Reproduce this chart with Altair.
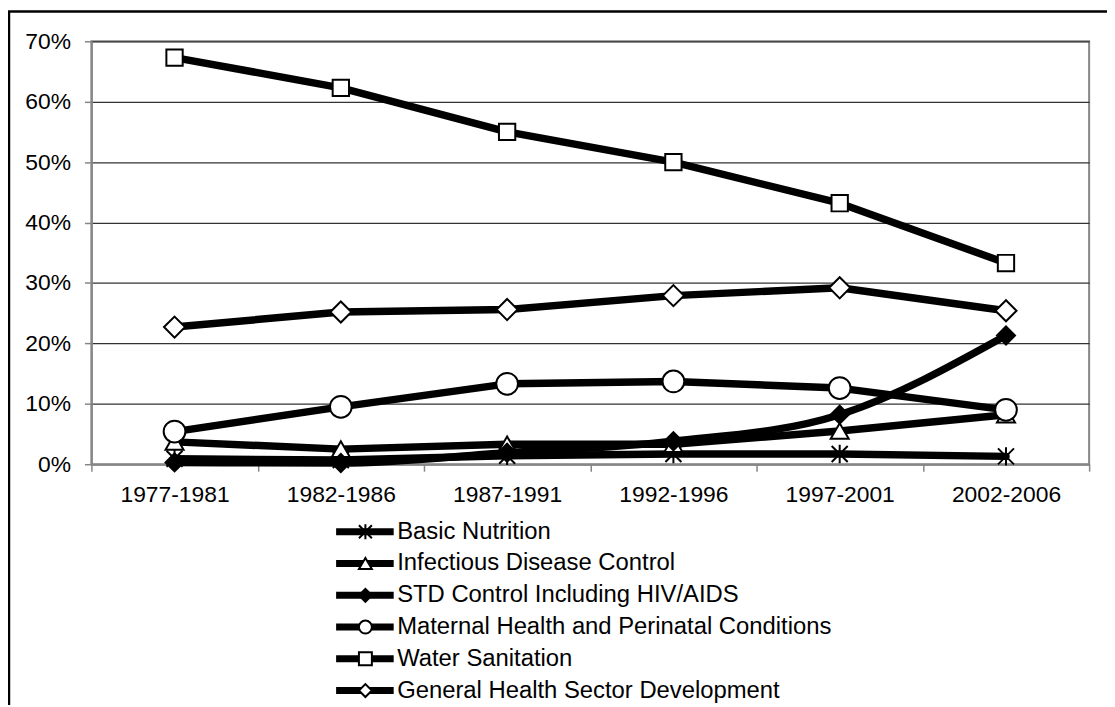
import altair as alt
import pandas as pd

# ---- data ----
periods = ["1977-1981", "1982-1986", "1987-1991", "1992-1996", "1997-2001", "2002-2006"]
series = [
    "Basic Nutrition",
    "Infectious Disease Control",
    "STD Control Including HIV/AIDS",
    "Maternal Health and Perinatal Conditions",
    "Water Sanitation",
    "General Health Sector Development",
]
basic_nutrition = [0.9, 0.7, 1.4, 1.7, 1.7, 1.3]
infectious_disease = [3.7, 2.5, 3.3, 3.3, 5.5, 8.2]
std_hiv = [0.3, 0.2, 1.9, 3.8, 8.2, 21.3]
maternal_health = [5.4, 9.5, 13.3, 13.7, 12.6, 9.0]
water_sanitation = [67.3, 62.3, 55.0, 50.0, 43.2, 33.3]
general_health = [22.7, 25.2, 25.6, 27.9, 29.2, 25.4]
y_ticks = [0, 10, 20, 30, 40, 50, 60, 70]

values_by_series = [basic_nutrition, infectious_disease, std_hiv,
                    maternal_health, water_sanitation, general_health]
rows = []
for i, (s, vals) in enumerate(zip(series, values_by_series)):
    for p, v in zip(periods, vals):
        rows.append({"series": s, "series_line": s,
                     "order": i, "period": p, "value": v})
df = pd.DataFrame(rows)

# ---- styling ----
FONT = "Liberation Sans"
GRAY = "#868686"
asterisk = "M-1,-1L1,1M-1,1L1,-1M0,-1.15L0,1.15"
shapes = [asterisk, "triangle-up", "diamond", "circle", "square", "diamond"]
fills = ["black", "white", "black", "white", "white", "white"]
sizes = [260, 330, 330, 480, 270, 450]

x_enc = alt.X(
    "period:N", sort=periods, bandPosition=0.5,
    scale=alt.Scale(type="band", domain=periods, paddingInner=0, paddingOuter=0),
    axis=alt.Axis(title=None, labelAngle=0, labelFont=FONT, labelFontSize=23,
                  labelColor="black", labelPadding=13, tickBand="extent",
                  tickSize=7, tickColor=GRAY, tickWidth=1.5, domainColor=GRAY,
                  domainWidth=2, grid=False, labelOverlap=False),
)
y_enc = alt.Y(
    "value:Q",
    scale=alt.Scale(domain=[0, 70], nice=False, zero=True),
    axis=alt.Axis(title=None, values=y_ticks, labelExpr="datum.value + '%'",
                  labelFont=FONT, labelFontSize=23, labelColor="black",
                  labelPadding=14, tickSize=7, tickColor=GRAY, tickWidth=1.5,
                  domainColor=GRAY, domainWidth=2, grid=True,
                  gridColor="#333333", gridWidth=1.2),
)

LEG_Y = 483
line_legend = alt.Legend(title=None, orient="none", direction="vertical",
                         legendX=243, legendY=LEG_Y, padding=0,
                         symbolType="stroke", symbolSize=3364,
                         symbolStrokeWidth=7, symbolStrokeColor="black",
                         clipHeight=22, rowPadding=8,
                         labelFont=FONT, labelFontSize=24, labelColor="black",
                         labelOffset=0, labelLimit=800)
stroke_enc = alt.Stroke(
    "series_line:N",
    sort=alt.EncodingSortField(field="order", op="min"),
    scale=alt.Scale(range=["black"] * len(series)),
    legend=line_legend,
)

base = alt.Chart(df)

lines = base.transform_filter(
    alt.datum.series != series[2]
).mark_line(strokeWidth=7.5, strokeCap="round", strokeJoin="round").encode(
    x=x_enc, y=y_enc, stroke=stroke_enc,
)
std_line = base.transform_filter(
    alt.datum.series == series[2]
).mark_line(strokeWidth=7.5, interpolate="monotone",
            strokeCap="round", strokeJoin="round").encode(
    x=x_enc, y=y_enc, stroke=stroke_enc,
)

# visible markers, one layer per series (drawn in series order)
marker_layers = []
for i, s in enumerate(series):
    marker_layers.append(
        base.transform_filter(alt.datum.series == s).mark_point(
            shape=shapes[i], filled=True, fill=fills[i], stroke="black",
            strokeWidth=2, size=sizes[i], opacity=1,
        ).encode(x=x_enc, y=y_enc)
    )

# legend-only layer: markers drawn over the legend lines
point_legend = alt.Legend(title=None, orient="none", direction="vertical",
                          legendX=264, legendY=LEG_Y, padding=0,
                          symbolSize=170, symbolStrokeWidth=2,
                          symbolOpacity=1,
                          clipHeight=22, rowPadding=8,
                          labelFont=FONT, labelFontSize=24, labelExpr="''",
                          labelLimit=800)
legend_points = base.transform_filter("datum.value < -1").mark_point(
    filled=True, stroke="black", strokeWidth=2, opacity=1).encode(
    x=x_enc, y=y_enc,
    color=alt.Color("series:N", scale=alt.Scale(domain=series, range=fills),
                    legend=point_legend),
    shape=alt.Shape("series:N", scale=alt.Scale(domain=series, range=shapes),
                    legend=point_legend),
)

frame_df = pd.DataFrame({"k": [0]})
frame_left = alt.Chart(frame_df).mark_rule(color="black", strokeWidth=2.5).encode(
    x=alt.value(-83), y=alt.value(-30), y2=alt.value(720))
frame_top = alt.Chart(frame_df).mark_rule(color="black", strokeWidth=2.5).encode(
    x=alt.value(-84), x2=alt.value(1040), y=alt.value(-30))

chart = alt.layer(lines, std_line, *marker_layers, legend_points,
                  frame_left, frame_top).properties(
    width=1005, height=426,
    padding={"left": 84, "top": 31, "right": 18, "bottom": 240},
    autosize=alt.AutoSizeParams(type="none"),
    background="white",
).configure_view(stroke=GRAY, strokeWidth=2)

chart.save("out.html", embed_options={"renderer": "svg", "actions": False})
